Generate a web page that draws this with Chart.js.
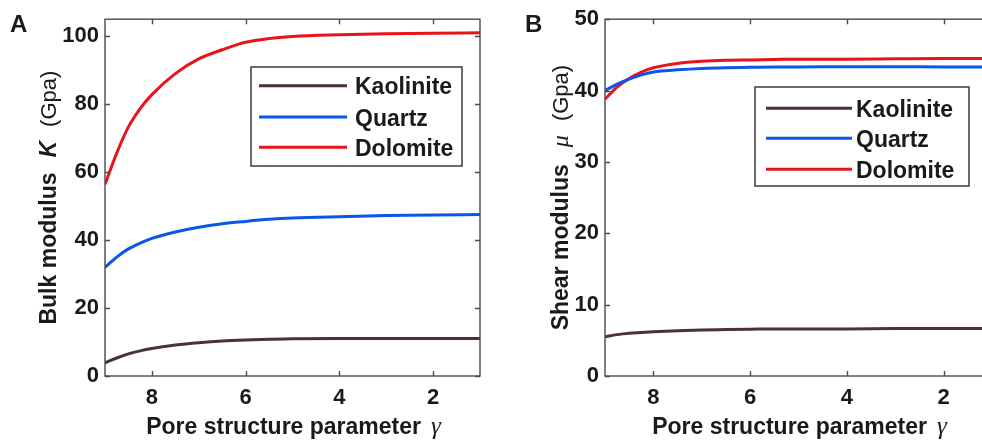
<!DOCTYPE html>
<html>
<head>
<meta charset="utf-8">
<script src="https://cdn.jsdelivr.net/npm/chart.js@4"></script>
<style>
  html, body { margin: 0; padding: 0; background: #fff; overflow: hidden; width: 982px; height: 441px; }
  canvas { position: absolute; top: 0; }
  #chartA { left: 0; }
  #chartB { left: 491px; }
</style>
</head>
<body>
<canvas id="chartA" width="491" height="441"></canvas>
<canvas id="chartB" width="511" height="441"></canvas>
<script>
// pore structure parameter, shared x values for both panels
const gamma = [9, 8.75, 8.5, 8.25, 8, 7.5, 7, 6.5, 6, 5.5, 5, 4, 3, 2, 1];
const gammaTicks = [2, 4, 6, 8];

// bulk modulus K (GPa)
const bulkKaolinite = [3.9, 5.3, 6.5, 7.4, 8.1, 9.1, 9.8, 10.3, 10.6, 10.8, 10.95, 11.0, 11.0, 11.0, 11.0];
const bulkQuartz = [32.0, 35.0, 37.4, 39.1, 40.5, 42.4, 43.8, 44.8, 45.5, 46.1, 46.5, 46.9, 47.2, 47.4, 47.5];
const bulkDolomite = [56.4, 65.6, 73.3, 78.7, 82.8, 89.0, 93.3, 96.0, 98.2, 99.3, 99.9, 100.4, 100.7, 100.9, 101.0];
const bulkTicks = [0, 20, 40, 60, 80, 100];

// shear modulus mu (GPa)
const shearKaolinite = [5.5, 5.8, 6.0, 6.1, 6.2, 6.35, 6.45, 6.5, 6.55, 6.6, 6.6, 6.6, 6.65, 6.65, 6.65];
const shearQuartz = [40.0, 40.9, 41.6, 42.2, 42.6, 42.9, 43.1, 43.2, 43.25, 43.3, 43.3, 43.35, 43.35, 43.3, 43.3];
const shearDolomite = [38.8, 40.5, 41.7, 42.6, 43.2, 43.8, 44.1, 44.25, 44.3, 44.35, 44.4, 44.4, 44.45, 44.5, 44.5];
const shearTicks = [0, 10, 20, 30, 40, 50];

const minerals = ['Kaolinite', 'Quartz', 'Dolomite'];
const colors = ['#4b3236', '#0a55ea', '#e8141c'];

const SANS = '"Liberation Sans", Arial, sans-serif';
const SERIF = '"Liberation Serif", "Times New Roman", serif';
const FRAME = '#4a4a4a';
const INK = '#1a1a1a';

function toPoints(ys) {
  return gamma.map((g, i) => ({ x: g, y: ys[i] }));
}

function makeDatasets(series) {
  return series.map((ys, i) => ({
    label: minerals[i],
    data: toPoints(ys),
    borderColor: colors[i],
    borderWidth: 3,
    pointRadius: 0,
    cubicInterpolationMode: 'monotone',
    fill: false
  }));
}

// draw a run of differently styled text pieces, centred on (0,0) of the current transform
function drawPieces(ctx, pieces) {
  let total = 0;
  pieces.forEach(p => {
    if (p.gap) { total += p.gap; return; }
    ctx.font = p.font;
    p.w = ctx.measureText(p.t).width;
    total += p.w;
  });
  let x = -total / 2;
  ctx.textAlign = 'left';
  ctx.textBaseline = 'alphabetic';
  pieces.forEach(p => {
    if (p.gap) { x += p.gap; return; }
    ctx.font = p.font;
    ctx.fillText(p.t, x, 0);
    x += p.w;
  });
}

// MATLAB-like box axes: frame, inward ticks, inset legend, axis titles and panel letter
const boxAxes = {
  id: 'boxAxes',
  afterDatasetsDraw(chart, args, opts) {
    const { ctx, chartArea: a, scales } = chart;
    ctx.save();
    ctx.strokeStyle = FRAME;
    ctx.lineWidth = 1.4;
    ctx.strokeRect(a.left, a.top, a.right - a.left, a.bottom - a.top);
    ctx.beginPath();
    scales.x.ticks.forEach(t => {
      const px = Math.round(scales.x.getPixelForValue(t.value)) + 0.5;
      ctx.moveTo(px, a.bottom); ctx.lineTo(px, a.bottom - 5);
      ctx.moveTo(px, a.top); ctx.lineTo(px, a.top + 5);
    });
    scales.y.ticks.forEach(t => {
      const py = Math.round(scales.y.getPixelForValue(t.value)) + 0.5;
      ctx.moveTo(a.left, py); ctx.lineTo(a.left + 5, py);
      ctx.moveTo(a.right, py); ctx.lineTo(a.right - 5, py);
    });
    ctx.stroke();

    // legend
    const L = opts.legend;
    ctx.fillStyle = '#fff';
    ctx.fillRect(L.x, L.y, L.w, L.h);
    ctx.strokeStyle = '#3c3c3c';
    ctx.lineWidth = 1.5;
    ctx.strokeRect(L.x, L.y, L.w, L.h);
    chart.data.datasets.forEach((ds, i) => {
      const ry = L.rows[i];
      ctx.strokeStyle = ds.borderColor;
      ctx.lineWidth = 3;
      ctx.beginPath();
      ctx.moveTo(L.x1, ry); ctx.lineTo(L.x2, ry);
      ctx.stroke();
      ctx.fillStyle = INK;
      ctx.font = 'bold 23px ' + SANS;
      ctx.textAlign = 'left';
      ctx.textBaseline = 'alphabetic';
      ctx.fillText(ds.label, L.tx, ry + 8.5);
    });

    ctx.fillStyle = INK;
    // y title, rotated
    ctx.save();
    ctx.translate(opts.yTitleX, (a.top + a.bottom) / 2);
    ctx.rotate(-Math.PI / 2);
    drawPieces(ctx, opts.yTitle);
    ctx.restore();

    // x title
    ctx.save();
    ctx.translate((a.left + a.right) / 2 + opts.xTitleShift, 434);
    drawPieces(ctx, [
      { t: 'Pore structure parameter', font: 'bold 23px ' + SANS },
      { gap: 10 },
      { t: 'γ', font: 'italic 25px ' + SERIF }
    ]);
    ctx.restore();

    // panel letter
    ctx.font = 'bold 24px ' + SANS;
    ctx.textAlign = 'left';
    ctx.textBaseline = 'alphabetic';
    ctx.fillText(opts.letter, opts.letterX, 32);
    ctx.restore();
  }
};

function makeChart(id, series, yMax, yTicks, leftWidth, rightPad, extra) {
  const tickFont = { family: SANS, size: 22, weight: 'bold' };
  return new Chart(document.getElementById(id), {
    type: 'line',
    data: { datasets: makeDatasets(series) },
    plugins: [boxAxes],
    options: {
      responsive: false,
      animation: false,
      layout: { padding: { top: 18, right: rightPad, bottom: 0, left: 0 } },
      plugins: {
        legend: { display: false },
        tooltip: { enabled: false },
        boxAxes: extra
      },
      scales: {
        x: {
          type: 'linear',
          reverse: true,
          min: 1,
          max: 9,
          grid: { display: false, drawTicks: false },
          border: { display: false },
          afterBuildTicks: s => { s.ticks = gammaTicks.map(v => ({ value: v })); },
          afterFit: s => { s.height = 65; },
          ticks: { font: tickFont, color: INK, padding: 9, maxRotation: 0 }
        },
        y: {
          min: 0,
          max: yMax,
          grid: { display: false, drawTicks: false },
          border: { display: false },
          afterBuildTicks: s => { s.ticks = yTicks.map(v => ({ value: v })); },
          afterFit: s => { s.width = leftWidth; },
          ticks: { font: tickFont, color: INK, padding: 6 }
        }
      }
    }
  });
}

makeChart('chartA', [bulkKaolinite, bulkQuartz, bulkDolomite], 105, bulkTicks, 105, 11, {
  letter: 'A',
  letterX: 10,
  yTitleX: 56,
  xTitleShift: 1,
  yTitle: [
    { t: 'Bulk modulus', font: 'bold 23px ' + SANS },
    { gap: 15 },
    { t: 'K', font: 'italic bold 23px ' + SANS },
    { gap: 14 },
    { t: '(Gpa)', font: '22px ' + SANS }
  ],
  legend: { x: 251, y: 67, w: 211, h: 99, x1: 259, x2: 347, tx: 355, rows: [85.7, 117, 147.3] }
});

makeChart('chartB', [shearKaolinite, shearQuartz, shearDolomite], 50, shearTicks, 114, 10, {
  letter: 'B',
  letterX: 34,
  yTitleX: 77,
  xTitleShift: 1,
  yTitle: [
    { t: 'Shear modulus', font: 'bold 23px ' + SANS },
    { gap: 17 },
    { t: 'μ', font: 'italic 24px ' + SERIF },
    { gap: 14 },
    { t: '(Gpa)', font: '22px ' + SANS }
  ],
  legend: { x: 264, y: 87, w: 214, h: 99, x1: 275, x2: 361, tx: 365, rows: [108.3, 138.3, 169.3] }
});
</script>
</body>
</html>
